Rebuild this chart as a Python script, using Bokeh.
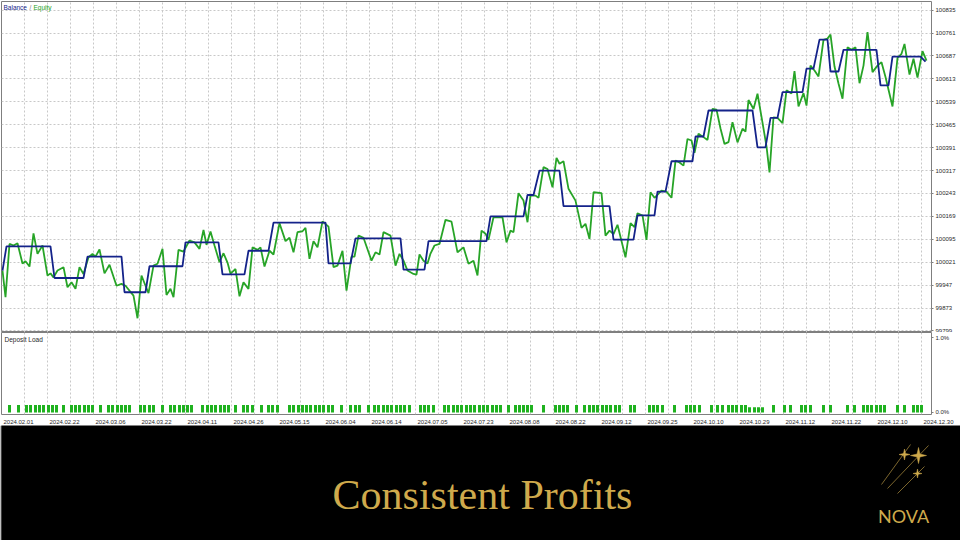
from bokeh.plotting import figure
from bokeh.models import Range1d, FixedTicker, Label, BasicTickFormatter
from bokeh.layouts import column
from bokeh.embed import file_html
from bokeh.resources import INLINE
from bokeh.core.properties import value

# ---------------- data ----------------
# x = position in the deal sequence, values = account money
equity_x = [1, 4, 8, 12, 16, 21, 24, 28, 32, 36,
            41, 46, 49, 52, 56, 62, 66, 70, 74, 78,
            82, 87, 91, 94, 98, 103, 108, 115, 120, 124,
            132, 136, 140, 144, 147, 152, 156, 161, 165, 169,
            172, 177, 182, 188, 193, 198, 202, 205, 209, 213,
            218, 222, 226, 229, 234, 238, 242, 247, 251, 256,
            259, 263, 268, 272, 278, 284, 288, 292, 296, 301,
            304, 308, 312, 316, 321, 327, 332, 336, 341, 345,
            350, 353, 357, 362, 370, 374, 378, 382, 389, 394,
            398, 402, 406, 412, 415, 418, 422, 426, 429, 433,
            438, 444, 450, 456, 462, 467, 472, 476, 480, 484,
            487, 492, 501, 505, 509, 512, 517, 522, 526, 529,
            534, 537, 542, 546, 551, 555, 558, 562, 567, 574,
            580, 584, 588, 592, 600, 604, 608, 612, 616, 624,
            629, 633, 636, 641, 645, 649, 653, 660, 665, 670,
            674, 678, 682, 686, 690, 693, 697, 702, 706, 711,
            715, 719, 723, 727, 731, 736, 741, 744, 747, 752,
            756, 761, 765, 768, 772, 776, 781, 785, 790, 793,
            797, 802, 805, 809, 813, 817, 822, 826, 829, 833,
            837, 841, 846, 850, 854, 858, 862, 866, 871, 876,
            880, 884, 891, 896, 900, 903, 908, 912, 916, 921,
            925]
equity_v = [99994, 99908, 100080, 100075, 100082, 100017, 100024, 100007, 100114, 100048,
            100075, 99978, 99985, 99972, 99994, 100005, 99940, 99956, 99935, 100005,
            99983, 100037, 100048, 100039, 100062, 99985, 100013, 99945, 99951, 99945,
            99913, 99840, 99978, 99945, 99921, 100010, 100016, 100064, 99915, 99935,
            99908, 100061, 100055, 100091, 100085, 100064, 100125, 100077, 100120, 100075,
            100021, 100050, 100020, 99984, 99999, 99911, 99956, 99935, 100069, 100061,
            100069, 100007, 100058, 100046, 100147, 100089, 100100, 100053, 100118, 100121,
            100132, 100032, 100089, 100069, 100153, 100136, 100005, 100010, 100058, 99929,
            100039, 100039, 100107, 100100, 100026, 100053, 100046, 100118, 100107, 100010,
            100048, 100026, 99994, 99983, 99981, 100046, 100026, 100017, 100049, 100075,
            100080, 100158, 100152, 100053, 100069, 100016, 100026, 99978, 100123, 100113,
            100093, 100166, 100166, 100085, 100123, 100118, 100244, 100220, 100150, 100236,
            100236, 100229, 100328, 100322, 100263, 100358, 100339, 100347, 100258, 100220,
            100132, 100145, 100096, 100247, 100244, 100107, 100123, 100112, 100142, 100037,
            100147, 100134, 100179, 100172, 100093, 100247, 100229, 100252, 100249, 100229,
            100349, 100343, 100333, 100419, 100414, 100374, 100436, 100425, 100416, 100516,
            100514, 100453, 100403, 100409, 100473, 100408, 100452, 100443, 100545, 100516,
            100565, 100472, 100395, 100311, 100489, 100487, 100470, 100576, 100566, 100638,
            100524, 100567, 100527, 100656, 100640, 100621, 100739, 100743, 100756, 100653,
            100598, 100549, 100715, 100707, 100715, 100599, 100656, 100764, 100635, 100656,
            100667, 100619, 100524, 100681, 100694, 100726, 100627, 100678, 100617, 100703,
            100672]

balance_x = [1, 5, 49, 53, 82, 86, 120, 123, 144, 148, 181, 184, 217, 221, 243, 247,
             267, 272, 324, 327, 349, 354, 399, 402, 423, 427, 485, 489, 522, 526,
             532, 538, 558, 562, 608, 612, 632, 636, 653, 656, 664, 670, 691, 694,
             702, 707, 751, 756, 764, 769, 776, 781, 801, 805, 812, 818, 826, 829,
             837, 842, 875, 879, 887, 891, 919, 924]
balance_v = [99994, 100072, 100072, 99970, 99970, 100039, 100039, 99924, 99924, 100008,
             100008, 100085, 100085, 99982, 99982, 100058, 100058, 100149, 100149, 100017,
             100017, 100098, 100098, 99997, 99997, 100089, 100089, 100169, 100169, 100238,
             100238, 100317, 100317, 100202, 100202, 100094, 100094, 100172, 100172, 100249,
             100249, 100347, 100347, 100427, 100427, 100511, 100511, 100392, 100392, 100487,
             100487, 100570, 100570, 100646, 100646, 100740, 100740, 100637, 100637, 100707,
             100707, 100592, 100592, 100685, 100685, 100669]

load_x = [8, 17, 25, 29, 34, 38, 42, 47, 51, 55,
          62, 70, 74, 78, 83, 87, 91, 99, 107, 111,
          116, 120, 124, 128, 139, 143, 148, 152, 161, 169,
          173, 178, 182, 186, 190, 201, 206, 210, 214, 219,
          223, 227, 234, 242, 246, 251, 260, 267, 271, 276,
          288, 292, 297, 301, 305, 309, 314, 318, 322, 327,
          331, 340, 349, 354, 358, 367, 373, 377, 382, 386,
          390, 395, 399, 403, 408, 419, 423, 427, 432, 443,
          447, 452, 456, 460, 465, 469, 473, 478, 482, 486,
          491, 495, 499, 507, 514, 518, 522, 526, 530, 542,
          554, 558, 562, 566, 575, 583, 588, 592, 596, 601,
          605, 609, 614, 618, 629, 633, 648, 652, 656, 661,
          673, 685, 689, 693, 698, 710, 716, 721, 727, 731,
          735, 740, 744, 748, 753, 757, 761, 772, 783, 789,
          800, 804, 809, 822, 829, 846, 853, 862, 866, 870,
          875, 879, 883, 896, 903, 912, 916, 920]
load_pct = [0.10, 0.10, 0.10, 0.10, 0.10, 0.10, 0.10, 0.10, 0.10, 0.10,
            0.10, 0.10, 0.10, 0.10, 0.10, 0.10, 0.10, 0.10, 0.10, 0.10,
            0.10, 0.10, 0.10, 0.10, 0.10, 0.10, 0.10, 0.10, 0.10, 0.10,
            0.10, 0.10, 0.10, 0.10, 0.10, 0.10, 0.10, 0.10, 0.10, 0.10,
            0.10, 0.10, 0.10, 0.10, 0.10, 0.10, 0.10, 0.10, 0.10, 0.10,
            0.10, 0.10, 0.10, 0.10, 0.10, 0.10, 0.10, 0.10, 0.10, 0.10,
            0.10, 0.10, 0.10, 0.10, 0.10, 0.10, 0.10, 0.10, 0.10, 0.10,
            0.10, 0.10, 0.10, 0.10, 0.10, 0.10, 0.10, 0.10, 0.10, 0.10,
            0.10, 0.10, 0.10, 0.10, 0.10, 0.10, 0.10, 0.10, 0.10, 0.10,
            0.10, 0.10, 0.10, 0.10, 0.10, 0.10, 0.10, 0.10, 0.10, 0.10,
            0.10, 0.10, 0.10, 0.10, 0.10, 0.10, 0.10, 0.10, 0.10, 0.10,
            0.10, 0.10, 0.10, 0.10, 0.10, 0.10, 0.10, 0.10, 0.10, 0.10,
            0.10, 0.10, 0.10, 0.10, 0.10, 0.10, 0.10, 0.10, 0.10, 0.10,
            0.10, 0.10, 0.10, 0.07, 0.07, 0.07, 0.07, 0.10, 0.10, 0.10,
            0.10, 0.10, 0.10, 0.10, 0.10, 0.10, 0.10, 0.10, 0.10, 0.10,
            0.10, 0.10, 0.10, 0.10, 0.10, 0.10, 0.10, 0.10]

date_labels = ["2024.02.01", "2024.02.22", "2024.03.06", "2024.03.22", "2024.04.11",
               "2024.04.26", "2024.05.15", "2024.06.04", "2024.06.14", "2024.07.05",
               "2024.07.23", "2024.08.08", "2024.08.22", "2024.09.12", "2024.09.25",
               "2024.10.10", "2024.10.29", "2024.11.12", "2024.11.22", "2024.12.10",
               "2024.12.30"]
balance_ticks = [99799, 99873, 99947, 100021, 100095, 100169, 100243, 100317,
                 100391, 100465, 100539, 100613, 100687, 100761, 100835]
load_ticks = [0, 1]
load_tick_labels = ["0.0%", "1.0%"]
title_text = "Consistent Profits"
brand_text = "NOVA"

# ---------------- styles ----------------
GREEN = "#27A427"
NAVY = "#14238A"
BAR_GREEN = "#1FB21F"
GRID = "#C8C8C8"
FRAME = "#7F7F7F"
TXT = "#2A2A2A"
GOLD = "#CFAA4C"
SANS = "Liberation Sans"

FRAME_W = 930
X_END = 930
LABEL_STEP = 46
GRID_STEP = 23
Y0, Y1 = 99794, 100863
MAIN_H = 331

x_range = Range1d(0, X_END)
grid_ticks = list(range(0, X_END + 1, GRID_STEP))


def style_right_axis(ax):
    ax.axis_line_color = None
    ax.major_tick_line_color = FRAME
    ax.major_tick_out = 2
    ax.major_tick_in = 0
    ax.minor_tick_line_color = None
    ax.major_label_text_font = SANS
    ax.major_label_text_font_size = "6px"
    ax.major_label_text_color = TXT
    ax.major_label_standoff = 2


# ---------------- main balance / equity panel ----------------
p1 = figure(frame_width=FRAME_W, frame_height=MAIN_H, x_range=x_range,
            y_range=Range1d(Y0, Y1), x_axis_location=None, y_axis_location="right",
            output_backend="svg", toolbar_location=None,
            min_border_left=1, min_border_right=0, min_border_top=1, min_border_bottom=0,
            background_fill_color="white", border_fill_color="white")
p1.outline_line_color = FRAME
p1.outline_line_width = 1
p1.yaxis.ticker = FixedTicker(ticks=balance_ticks)
p1.yaxis.formatter = BasicTickFormatter(use_scientific=False)
style_right_axis(p1.yaxis[0])
p1.xgrid.ticker = FixedTicker(ticks=grid_ticks)
for g in (p1.xgrid[0], p1.ygrid[0]):
    g.grid_line_color = GRID
    g.grid_line_dash = "2 2"
    g.grid_line_width = 1

p1.line(equity_x, equity_v, line_color=GREEN, line_width=1.8)
p1.line(balance_x, balance_v, line_color=NAVY, line_width=1.8)

units_px = (Y1 - Y0) / MAIN_H
y_cap = Y1 - 6 * units_px
for txt, xx, col in [("Balance", 2, NAVY), ("/", 28, "#808080"), ("Equity", 32, GREEN)]:
    p1.add_layout(Label(x=xx, y=y_cap, text=txt, text_color=col, text_font=SANS,
                        text_font_size="6.5px", text_baseline="middle"))

# ---------------- deposit load panel ----------------
D0, D1 = -0.027, 1.067
DEP_H = 82
p2 = figure(frame_width=FRAME_W, frame_height=DEP_H, x_range=x_range,
            y_range=Range1d(D0, D1), x_axis_location=None, y_axis_location="right",
            output_backend="svg", toolbar_location=None,
            min_border_left=1, min_border_right=8, min_border_top=0, min_border_bottom=1,
            background_fill_color="white", border_fill_color="white")
p2.outline_line_color = FRAME
p2.outline_line_width = 1
p2.yaxis.ticker = FixedTicker(ticks=load_ticks)
p2.yaxis.major_label_overrides = {t: s for t, s in zip(load_ticks, load_tick_labels)}
style_right_axis(p2.yaxis[0])
p2.xgrid.ticker = FixedTicker(ticks=grid_ticks)
p2.xgrid.grid_line_color = GRID
p2.xgrid.grid_line_dash = "2 2"
p2.ygrid.grid_line_color = None

p2.vbar(x=load_x, top=load_pct, bottom=0, width=3, fill_color=BAR_GREEN, line_color=None)
dep_units = (D1 - D0) / DEP_H
p2.add_layout(Label(x=3, y=D1 - 7 * dep_units, text="Deposit Load", text_color=TXT,
                    text_font=SANS, text_font_size="6.5px", text_baseline="middle"))

# ---------------- date row (same x scale as the panels, wider so the last label fits) ----------------
pd_ = figure(frame_width=960, frame_height=10, x_range=Range1d(-1, 959), y_range=Range1d(0, 1),
             x_axis_location=None, y_axis_location=None, output_backend="svg", toolbar_location=None,
             min_border_left=0, min_border_right=0, min_border_top=0, min_border_bottom=0,
             background_fill_color="white", border_fill_color="white")
pd_.outline_line_color = None
pd_.xgrid.visible = False
pd_.ygrid.visible = False
date_pos = [LABEL_STEP * k + 1 for k in range(len(date_labels))]
pd_.text(x=date_pos, y=[0.55] * len(date_pos), text=date_labels, text_font=value(SANS),
         text_font_size="6px", text_color=TXT, text_align="left", text_baseline="middle")

# ---------------- black banner ----------------
p3 = figure(frame_width=960, frame_height=115, x_range=Range1d(0, 960), y_range=Range1d(540, 425),
            x_axis_location=None, y_axis_location=None, output_backend="svg", toolbar_location=None,
            min_border_left=0, min_border_right=0, min_border_top=0, min_border_bottom=0,
            background_fill_color="black", border_fill_color="black")
p3.outline_line_color = None
p3.xgrid.visible = False
p3.ygrid.visible = False

p3.text(x=[481], y=[494], text=[title_text], text_font=value("Liberation Serif"),
        text_font_size="42px", text_color=GOLD, text_align="center", text_baseline="alphabetic")
p3.text(x=[902], y=[515], text=[brand_text], text_font=value("Lato"),
        text_font_size="18px", text_color=GOLD, text_align="center", text_baseline="alphabetic")


def sparkle(cx, cy, r):
    k = 0.18 * r
    xs = [cx, cx + k, cx + r, cx + k, cx, cx - k, cx - r, cx - k]
    ys = [cy - r, cy - k, cy, cy + k, cy + r, cy + k, cy, cy - k]
    return xs, ys


stars = [sparkle(917, 455, 8), sparkle(903, 454, 5.5), sparkle(916, 473, 4.5)]
p3.segment(x0=[880, 886, 896], y0=[484, 488, 493], x1=[909, 927, 923], y1=[444, 445, 466],
           line_color=GOLD, line_width=0.8, line_alpha=0.75)
p3.patches(xs=[s[0] for s in stars], ys=[s[1] for s in stars], fill_color=GOLD, line_color=GOLD,
           line_width=0.5)

layout = column(p1, p2, pd_, p3, spacing=0)
open("out.html", "w").write(file_html(layout, INLINE))
